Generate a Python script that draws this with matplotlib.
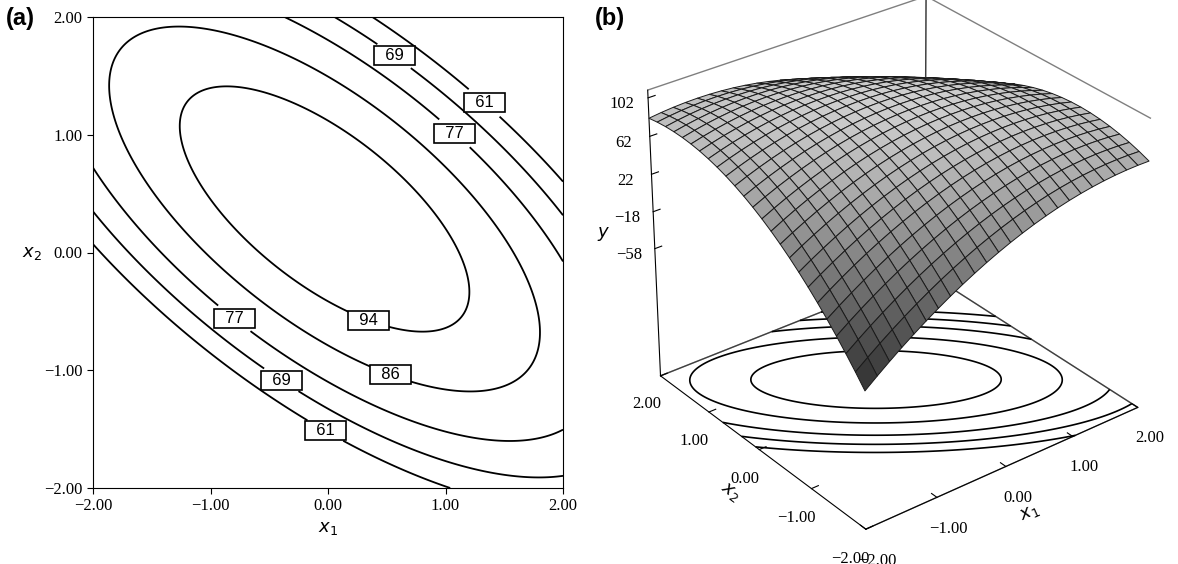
import numpy as np
import matplotlib
matplotlib.use("Agg")
import matplotlib.pyplot as plt
from matplotlib.colors import Normalize

plt.rcParams['font.family'] = ['Liberation Serif', 'DejaVu Serif']

# fitted second-order model
b0, b1, b2 = 99.2, 4.26, 7.90
b11, b22, b12 = -8.0, -11.2, -12.8
levels = [61, 69, 77, 86, 94]
label_pos = [(0.60, 1.72), (1.40, 1.35), (1.12, 1.06), (-0.79, -0.55),
             (-0.39, -1.07), (-0.01, -1.49), (0.55, -1.0), (0.36, -0.54)]
ticks = [-2.0, -1.0, 0.0, 1.0, 2.0]
zticks = [102, 62, 22, -18, -58]
zfloor, ztop = -200, 110

def model(x1, x2):
    return b0 + b1*x1 + b2*x2 + b11*x1**2 + b22*x2**2 + b12*x1*x2

def fmt(v):
    return f'{v:.2f}'.replace('-', '\u2212')

g = np.linspace(-2, 2, 301)
X1, X2 = np.meshgrid(g, g)
Y = model(X1, X2)

fig = plt.figure(figsize=(11.78, 5.64), dpi=100)

# (a) contour plot
ax = fig.add_axes([93/1178, 1-488/564, 470/1178, 471/564])
cs = ax.contour(X1, X2, Y, levels=levels, colors='black', linewidths=1.3)
lbls = ax.clabel(cs, fmt=lambda v: f'  {v:.0f}  ', fontsize=12, inline=True,
                 inline_spacing=4, manual=label_pos)
for t in lbls:
    t.set_rotation(0)
    t.set_bbox(dict(boxstyle='square,pad=0.12', fc='white', ec='black', lw=1.2))
    t.set_family(['Liberation Sans', 'DejaVu Sans'])
ax.set_xlim(-2, 2); ax.set_ylim(-2, 2)
ax.set_xticks(ticks); ax.set_yticks(ticks)
ax.set_xticklabels([fmt(t) for t in ticks], fontsize=12)
ax.set_yticklabels([fmt(t) for t in ticks], fontsize=12)
ax.set_xlabel('$x_1$', fontsize=13)
ax.set_ylabel('$x_2$', fontsize=13, rotation=0)
ax.yaxis.set_label_coords(-0.13, 0.48)
ax.tick_params(direction='out', length=4)
fig.text(0.005, 0.955, '(a)', fontsize=17, fontweight='bold',
         family=['Liberation Sans', 'DejaVu Sans'])
fig.text(0.505, 0.955, '(b)', fontsize=17, fontweight='bold',
         family=['Liberation Sans', 'DejaVu Sans'])

# (b) surface plot
ax3 = fig.add_axes([0.51, 0.01, 0.49, 1.06], projection='3d')
gs = np.linspace(-2, 2, 25)
S1, S2 = np.meshgrid(gs, gs)
SY = model(S1, S2)
cols = plt.cm.gray(Normalize(-110, 150)(SY))
ax3.plot_surface(S1, S2, SY, facecolors=cols, edgecolor='#1a1a1a', linewidth=0.7,
                 shade=False, antialiased=True)
ax3.contour(X1, X2, Y, levels=levels, zdir='z', offset=zfloor, colors='black', linewidths=1.2)
ax3.set_xlim(-2, 2); ax3.set_ylim(-2, 2); ax3.set_zlim(zfloor, ztop)
ax3.view_init(elev=30, azim=-128)
ax3.set_box_aspect((1, 1, 0.95))
ax3.set_xticks(ticks); ax3.set_yticks(ticks); ax3.set_zticks(zticks)
ax3.set_xticklabels([fmt(t) for t in ticks], fontsize=12)
ax3.set_yticklabels([fmt(t) for t in ticks], fontsize=12)
ax3.set_zticklabels([str(z).replace('-', '\u2212') for z in zticks], fontsize=12)
ax3.set_xlabel('$x_1$', fontsize=13, labelpad=2)
ax3.set_ylabel('$x_2$', fontsize=13, labelpad=2)
ax3.set_zlabel('$y$', fontsize=13, labelpad=2)
for a in (ax3.xaxis, ax3.yaxis, ax3.zaxis):
    a.pane.fill = False
    a.pane.set_edgecolor('black')
    a._axinfo['grid']['linewidth'] = 0
    a._axinfo['tick']['inward_factor'] = 0.0
    a._axinfo['tick']['outward_factor'] = 0.3
    a.line.set_color('black')
ax3.grid(False)

fig.savefig('out.png', dpi=100)
